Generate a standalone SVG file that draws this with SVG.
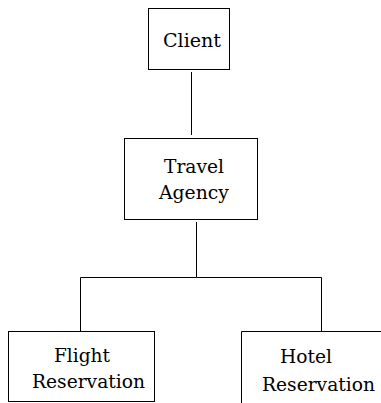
<svg xmlns="http://www.w3.org/2000/svg" width="381" height="403" viewBox="0 0 381 403">
<style>
.box{fill:#fff;stroke:#000;stroke-width:1}
.lbl{font-family:'DejaVu Serif','Liberation Serif',serif;font-size:18px;fill:#000;text-anchor:middle}
.con{fill:none;stroke:#000;stroke-width:1}
</style>
<rect width="381" height="403" fill="#fff"/>
<g id="connectors">
<line class="con" x1="191.5" y1="72" x2="191.5" y2="135"/>
<polyline class="con" points="196.5,222 196.5,277.5 80.5,277.5 80.5,331"/>
<polyline class="con" points="196.5,277.5 321.5,277.5 321.5,331"/>
</g>
<g id="client">
<rect class="box" x="148.5" y="8.5" width="81" height="61"/>
<text class="lbl" x="192" y="47" textLength="58" lengthAdjust="spacingAndGlyphs">Client</text>
</g>
<g id="travel-agency">
<rect class="box" x="124.5" y="138.5" width="133" height="81"/>
<text class="lbl" x="194" y="173" textLength="60" lengthAdjust="spacingAndGlyphs">Travel</text>
<text class="lbl" x="194" y="199" textLength="70" lengthAdjust="spacingAndGlyphs">Agency</text>
</g>
<g id="flight-reservation">
<rect class="box" x="8.5" y="331.5" width="146" height="70"/>
<text class="lbl" x="82" y="362" textLength="56" lengthAdjust="spacingAndGlyphs">Flight</text>
<text class="lbl" x="88.5" y="388" textLength="113" lengthAdjust="spacingAndGlyphs">Reservation</text>
</g>
<g id="hotel-reservation">
<path class="con" d="M241.5,404 V331.5 H381"/>
<text class="lbl" x="306" y="363" textLength="52" lengthAdjust="spacingAndGlyphs">Hotel</text>
<text class="lbl" x="318.5" y="391" textLength="113" lengthAdjust="spacingAndGlyphs">Reservation</text>
</g>
</svg>
